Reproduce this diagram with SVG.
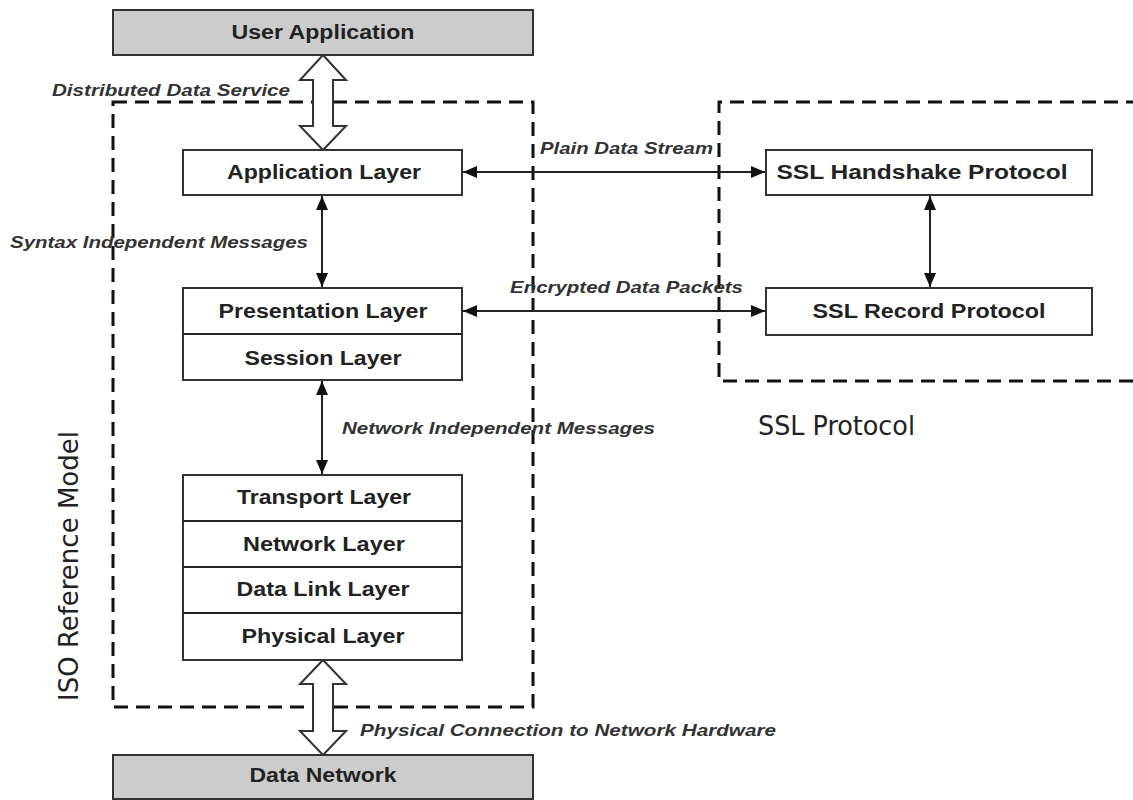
<svg xmlns="http://www.w3.org/2000/svg" width="1133" height="800" viewBox="0 0 1133 800">
  <style>
    .box { fill: #ffffff; stroke: #333333; stroke-width: 2; }
    .grey { fill: #cccccc; stroke: #333333; stroke-width: 2; }
    .frame { fill: none; stroke: #111111; stroke-width: 3; stroke-dasharray: 14 8; }
    .lbl { font-family: "Liberation Sans", Arial, sans-serif; font-weight: bold; font-size: 20px; fill: #222222; text-anchor: middle; }
    .note { font-family: "Liberation Sans", Arial, sans-serif; font-weight: bold; font-style: italic; font-size: 17px; fill: #333333; }
    .title { font-family: "Liberation Sans Narrow", "DejaVu Sans Condensed", "Liberation Sans", sans-serif; font-size: 27px; fill: #222222; }
    .line { fill: none; stroke: #222222; stroke-width: 2; }
    .hollow { fill: #ffffff; stroke: #333333; stroke-width: 2; stroke-linejoin: miter; }
  </style>
  <defs>
    <marker id="head" viewBox="0 0 14 12" refX="14" refY="6" markerWidth="14" markerHeight="12" markerUnits="userSpaceOnUse" orient="auto-start-reverse">
      <path d="M0,0 L14,6 L0,12 Z" fill="#111111"/>
    </marker>
  </defs>

  <rect width="1133" height="800" fill="#ffffff"/>

  <!-- dashed grouping frames -->
  <g id="iso-frame">
    <rect class="frame" x="113" y="102" width="420" height="605"/>
    <text class="title" transform="translate(78,701) rotate(-90)" textLength="270" lengthAdjust="spacingAndGlyphs">ISO Reference Model</text>
  </g>
  <g id="ssl-frame">
    <path class="frame" d="M1140,102 H719 V381 H1140"/>
    <text class="title" x="758" y="435" textLength="157" lengthAdjust="spacingAndGlyphs">SSL Protocol</text>
  </g>

  <!-- connectors -->
  <g id="connectors">
    <path class="hollow" d="M323,55 L346,80 L333,80 L333,126 L346,126 L323,150 L300,126 L313,126 L313,80 L300,80 Z"/>
    <path class="hollow" d="M323,660 L346,684 L333,684 L333,731 L346,731 L323,755 L300,731 L313,731 L313,684 L300,684 Z"/>
    <line class="line" x1="322" y1="196" x2="322" y2="287" marker-start="url(#head)" marker-end="url(#head)"/>
    <line class="line" x1="322" y1="381" x2="322" y2="474" marker-start="url(#head)" marker-end="url(#head)"/>
    <line class="line" x1="463" y1="172" x2="765" y2="172" marker-start="url(#head)" marker-end="url(#head)"/>
    <line class="line" x1="463" y1="311" x2="765" y2="311" marker-start="url(#head)" marker-end="url(#head)"/>
    <line class="line" x1="930" y1="196" x2="930" y2="287" marker-start="url(#head)" marker-end="url(#head)"/>
    <text class="note" x="52" y="96" textLength="238" lengthAdjust="spacingAndGlyphs">Distributed Data Service</text>
    <text class="note" x="10" y="248" textLength="298" lengthAdjust="spacingAndGlyphs">Syntax Independent Messages</text>
    <text class="note" x="342" y="434" textLength="313" lengthAdjust="spacingAndGlyphs">Network Independent Messages</text>
    <text class="note" x="360" y="736" textLength="416" lengthAdjust="spacingAndGlyphs">Physical Connection to Network Hardware</text>
    <text class="note" x="540" y="154" textLength="173" lengthAdjust="spacingAndGlyphs">Plain Data Stream</text>
    <text class="note" x="510" y="293" textLength="233" lengthAdjust="spacingAndGlyphs">Encrypted Data Packets</text>
  </g>

  <!-- nodes -->
  <g id="user-application">
    <rect class="grey" x="113" y="10" width="420" height="45"/>
    <text class="lbl" x="323" y="39" textLength="183" lengthAdjust="spacingAndGlyphs">User Application</text>
  </g>
  <g id="application-layer">
    <rect class="box" x="183" y="150" width="279" height="45"/>
    <text class="lbl" x="324" y="179" textLength="194" lengthAdjust="spacingAndGlyphs">Application Layer</text>
  </g>
  <g id="presentation-session">
    <rect class="box" x="183" y="288" width="279" height="92"/>
    <line class="line" x1="183" y1="334" x2="462" y2="334"/>
    <text class="lbl" x="323" y="318" textLength="209" lengthAdjust="spacingAndGlyphs">Presentation Layer</text>
    <text class="lbl" x="323" y="365" textLength="157" lengthAdjust="spacingAndGlyphs">Session Layer</text>
  </g>
  <g id="lower-layers">
    <rect class="box" x="183" y="475" width="279" height="185"/>
    <line class="line" x1="183" y1="521" x2="462" y2="521"/>
    <line class="line" x1="183" y1="567" x2="462" y2="567"/>
    <line class="line" x1="183" y1="613" x2="462" y2="613"/>
    <text class="lbl" x="324" y="504" textLength="174" lengthAdjust="spacingAndGlyphs">Transport Layer</text>
    <text class="lbl" x="324" y="551" textLength="162" lengthAdjust="spacingAndGlyphs">Network Layer</text>
    <text class="lbl" x="323" y="596" textLength="173" lengthAdjust="spacingAndGlyphs">Data Link Layer</text>
    <text class="lbl" x="323" y="643" textLength="163" lengthAdjust="spacingAndGlyphs">Physical Layer</text>
  </g>
  <g id="data-network">
    <rect class="grey" x="113" y="755" width="420" height="44"/>
    <text class="lbl" x="323" y="782" textLength="147" lengthAdjust="spacingAndGlyphs">Data Network</text>
  </g>
  <g id="ssl-handshake">
    <rect class="box" x="766" y="150" width="326" height="45"/>
    <text class="lbl" x="922" y="179" textLength="291" lengthAdjust="spacingAndGlyphs">SSL Handshake Protocol</text>
  </g>
  <g id="ssl-record">
    <rect class="box" x="766" y="288" width="326" height="47"/>
    <text class="lbl" x="929" y="318" textLength="233" lengthAdjust="spacingAndGlyphs">SSL Record Protocol</text>
  </g>
</svg>
